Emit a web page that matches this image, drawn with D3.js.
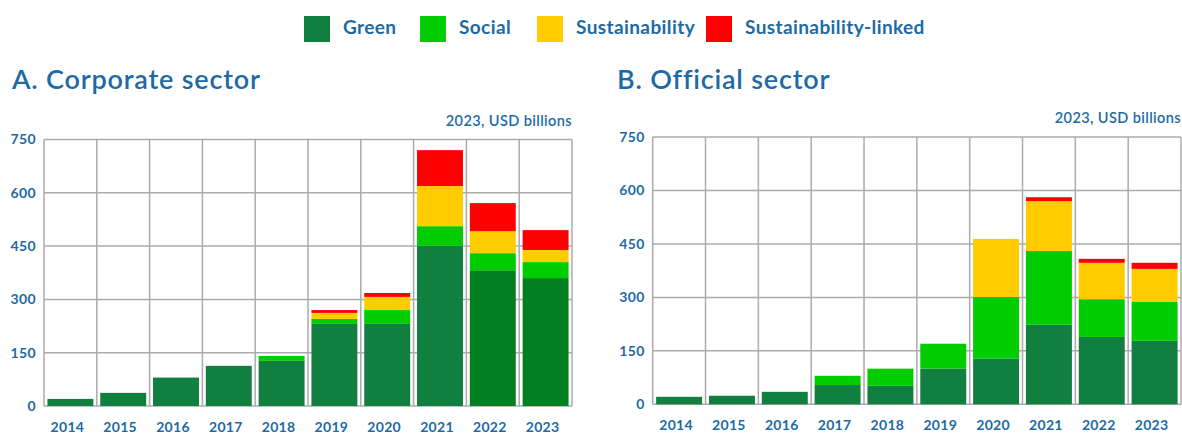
<!DOCTYPE html>
<html>
<head>
<meta charset="utf-8">
<script src="https://cdn.jsdelivr.net/npm/d3@7"></script>
<style>
  html, body { margin: 0; padding: 0; background: #fff; }
  svg { display: block; font-family: Lato, "Open Sans", sans-serif; }
</style>
</head>
<body>
<svg id="chart" width="1182" height="435"></svg>
<script>
// ---- data ----
const years = ["2014","2015","2016","2017","2018","2019","2020","2021","2022","2023"];
const seriesNames = ["Green","Social","Sustainability","Sustainability-linked"];
const yTicks = [0,150,300,450,600,750];

// A. Corporate sector (USD billions, 2023 prices)
const corpGreen  = [20, 37, 80, 113, 127, 231, 231, 451, 382, 360];
const corpSocial = [0, 0, 0, 0, 14, 14, 39, 55, 48, 45];
const corpSust   = [0, 0, 0, 0, 0, 17, 37, 113, 62, 34];
const corpSLB    = [0, 0, 0, 0, 0, 8, 11, 101, 79, 56];

// B. Official sector
const offGreen  = [21, 24, 35, 54, 52, 100, 128, 223, 189, 178];
const offSocial = [0, 0, 0, 26, 48, 70, 173, 207, 106, 109];
const offSust   = [0, 0, 0, 0, 0, 0, 163, 140, 102, 93];
const offSLB    = [0, 0, 0, 0, 0, 0, 0, 11, 11, 17];

// ---- styles ----
const colors = ["#117f40", "#00cc00", "#ffcc00", "#ff0000"];
const textBlue = "#1d6aa5";
const gridColor = "#ababab";

const svg = d3.select("#chart");

// legend
const legendX = [304, 420, 537, 706];
const legend = svg.append("g");
seriesNames.forEach((name, i) => {
  legend.append("rect")
    .attr("x", legendX[i]).attr("y", 16)
    .attr("width", 26).attr("height", 26)
    .attr("fill", colors[i]);
  legend.append("text")
    .attr("x", legendX[i] + 39).attr("y", 34)
    .attr("fill", textBlue)
    .attr("font-size", 19)
    .attr("font-weight", 700)
    .attr("letter-spacing", 0.4)
    .text(name);
});

function buildRows(g, s, su, sl) {
  return years.map((y, i) => ({
    year: y, "Green": g[i], "Social": s[i], "Sustainability": su[i], "Sustainability-linked": sl[i]
  }));
}

function drawPanel(opts) {
  const { left, right, top, bottom, title, titleX, subX, subY, rows, altGreenYears } = opts;
  const g = svg.append("g");

  const x = d3.scaleBand().domain(years).range([left, right]).paddingInner(0.13).paddingOuter(0.065);
  const step = (right - left) / years.length;
  const y = d3.scaleLinear().domain([0, 750]).range([bottom, top]);

  // title
  g.append("text")
    .attr("x", titleX).attr("y", 89)
    .attr("fill", textBlue)
    .attr("font-size", 27)
    .attr("font-weight", 600)
    .attr("letter-spacing", 0.8)
    .text(title);

  // unit
  g.append("text")
    .attr("x", subX).attr("y", subY)
    .attr("text-anchor", "end")
    .attr("fill", textBlue)
    .attr("font-size", 14.5)
    .attr("font-weight", 600)
    .attr("letter-spacing", 0.4)
    .text("2023, USD billions");

  // horizontal grid
  g.append("g").selectAll("line").data(yTicks).join("line")
    .attr("x1", left).attr("x2", right)
    .attr("y1", d => y(d)).attr("y2", d => y(d))
    .attr("stroke", gridColor).attr("stroke-width", 1.5);

  // vertical grid (band boundaries)
  const bounds = d3.range(years.length + 1).map(i => left + i * step);
  g.append("g").selectAll("line").data(bounds).join("line")
    .attr("x1", d => d).attr("x2", d => d)
    .attr("y1", top).attr("y2", bottom)
    .attr("stroke", gridColor).attr("stroke-width", 1.5);

  // y axis labels
  const yAxis = d3.axisLeft(y).tickValues(yTicks).tickSize(0).tickPadding(0);
  const ya = g.append("g").attr("transform", `translate(${left - 8},0)`).call(yAxis);
  ya.select(".domain").remove();
  ya.selectAll("text")
    .attr("fill", textBlue).attr("font-size", 14).attr("font-weight", 700)
    .attr("letter-spacing", 0.4)
    .attr("font-family", "Lato, sans-serif");

  // x axis labels
  const xAxis = d3.axisBottom(x).tickSize(0).tickPadding(0);
  const xa = g.append("g").attr("transform", `translate(-3,${bottom + 16})`).call(xAxis);
  xa.select(".domain").remove();
  xa.selectAll("text")
    .attr("fill", textBlue).attr("font-size", 14).attr("font-weight", 700)
    .attr("letter-spacing", 0.3)
    .attr("font-family", "Lato, sans-serif");

  // stacked bars
  const stack = d3.stack().keys(seriesNames)(rows);
  stack.forEach((layer, li) => {
    g.append("g").selectAll("rect").data(layer.filter(d => d[1] - d[0] > 0)).join("rect")
      .attr("x", d => x(d.data.year))
      .attr("width", x.bandwidth())
      .attr("y", d => y(d[1]))
      .attr("height", d => y(d[0]) - y(d[1]))
      .attr("fill", d => (li === 0 && altGreenYears.includes(d.data.year)) ? "#008020" : colors[li]);
  });
}

drawPanel({
  left: 44, right: 572, top: 139.5, bottom: 406,
  title: "A. Corporate sector", titleX: 12,
  subX: 572, subY: 125.5,
  rows: buildRows(corpGreen, corpSocial, corpSust, corpSLB),
  altGreenYears: ["2022", "2023"]
});

drawPanel({
  left: 652.7, right: 1181, top: 137, bottom: 404.3,
  title: "B. Official sector", titleX: 617,
  subX: 1181, subY: 123,
  rows: buildRows(offGreen, offSocial, offSust, offSLB),
  altGreenYears: []
});
</script>
</body>
</html>
